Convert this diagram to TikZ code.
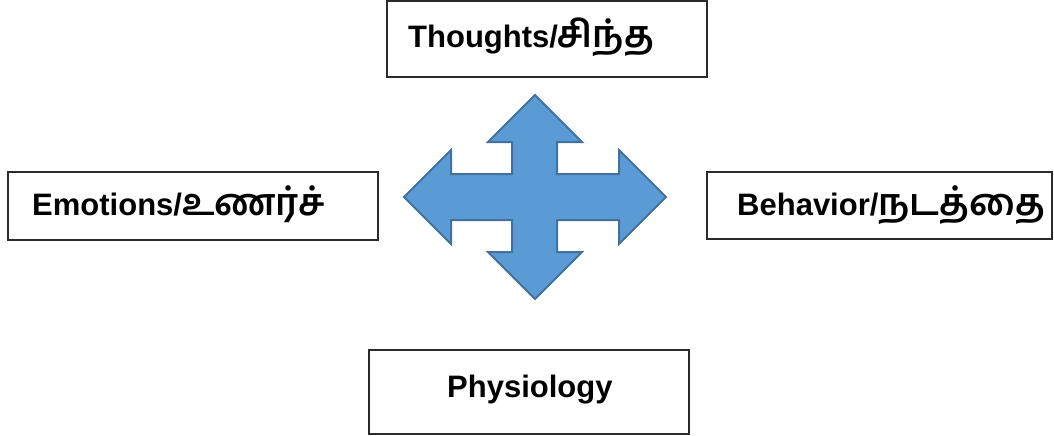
\documentclass[tikz,border=0pt]{standalone}
\usepackage{fontspec}
\setmainfont{Liberation Sans}
\newfontfamily\tamilfont[Script=Tamil]{Hind Madurai}
\definecolor{arrowfill}{HTML}{5B9BD5}
\definecolor{arrowline}{HTML}{41719C}
\definecolor{boxline}{HTML}{2B2B2B}
\newcommand{\tamtext}[1]{{\tamilfont\fontsize{37}{37}\selectfont\bfseries #1}}
\begin{document}
\begin{tikzpicture}[x=1pt,y=-1pt,
  boxstyle/.style={draw=boxline,line width=1.2pt,fill=white,rectangle,inner sep=0pt},
  labelstyle/.style={inner sep=0pt,anchor=base west,font=\fontsize{31}{31}\selectfont\bfseries}]
\useasboundingbox (0,0) rectangle (1054,436);
% boxes
\node[boxstyle,minimum width=320pt,minimum height=76pt] (thoughtsbox) at (547,39) {};
\node[boxstyle,minimum width=370pt,minimum height=68pt] (emotionsbox) at (193,206) {};
\node[boxstyle,minimum width=345pt,minimum height=67pt] (behaviorbox) at (879.5,205.5) {};
\node[boxstyle,minimum width=320pt,minimum height=84pt] (physbox) at (529,392) {};
% labels
\node[labelstyle] (thoughts) at (408,48) {Thoughts/\tamtext{சிந்த}};
\node[labelstyle] (emotions) at (32,215) {Emotions/\tamtext{உணர்ச்}};
\node[labelstyle] (behavior) at (737,215) {Behavior/\tamtext{நடத்தை}};
\node[labelstyle] (physiology) at (447,397) {Physiology};
% four-way arrow
\draw[fill=arrowfill,draw=arrowline,line width=2pt,line join=miter]
  (535,95) -- (582,142) -- (557,142) -- (557,174) -- (619,174) -- (619,150)
  -- (666,197) -- (619,244) -- (619,220) -- (557,220) -- (557,252) -- (582,252)
  -- (535,299) -- (488,252) -- (512,252) -- (512,220) -- (451,220) -- (451,244)
  -- (404,197) -- (451,150) -- (451,174) -- (512,174) -- (512,142) -- (488,142) -- cycle;
\end{tikzpicture}
\end{document}
